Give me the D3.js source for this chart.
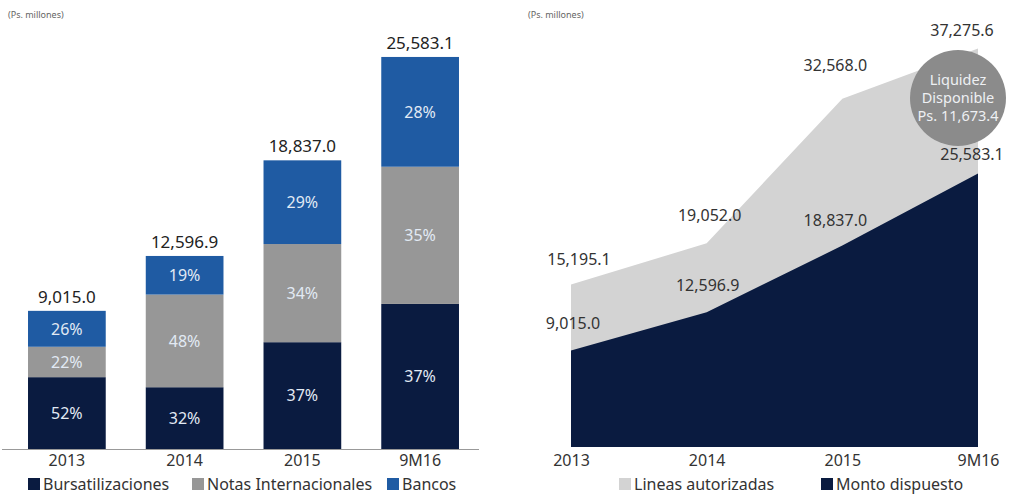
<!DOCTYPE html>
<html>
<head>
<meta charset="utf-8">
<script src="https://cdn.jsdelivr.net/npm/d3@7"></script>
<style>
  body { margin: 0; background: #fff; }
  svg text { font-family: "Noto Sans", "Open Sans", sans-serif; }
</style>
</head>
<body>
<div id="chart"></div>
<script>
// categories shared by both panels
const periods = ['2013', '2014', '2015', '9M16'];

// left panel: totals and split by source (percent)
const totals = [9015.0, 12596.9, 18837.0, 25583.1];
const pctBursatilizaciones = [52, 32, 37, 37];
const pctNotas = [22, 48, 34, 35];
const pctBancos = [26, 19, 29, 28];
const leftSeries = ['Bursatilizaciones', 'Notas Internacionales', 'Bancos'];

// right panel: authorised lines vs drawn amount
const lineasAutorizadas = [15195.1, 19052.0, 32568.0, 37275.6];
const montoDispuesto = [9015.0, 12596.9, 18837.0, 25583.1];
const liquidezLabel = ['Liquidez', 'Disponible', 'Ps. 11,673.4'];

const colors = {dark: '#0a1b40', gray: '#979797', blue: '#1f5ba3', light: '#d3d3d3', circle: '#8b8b8b'};
const fmt = d3.format(',.1f');

const svg = d3.select('#chart').append('svg')
    .attr('width', 1014)
    .attr('height', 497);

// ---------- left: stacked bars ----------
let baseL = 449;
let x = d3.scaleBand().domain(periods).range([8, 479]).paddingInner(0.34).paddingOuter(0.17);
let y = d3.scaleLinear().domain([0, 29300]).range([baseL, 0]);

let stackRows = periods.map(function(p, i) {
    return {period: p, total: totals[i],
        Bursatilizaciones: totals[i] * pctBursatilizaciones[i] / 100,
        'Notas Internacionales': totals[i] * pctNotas[i] / 100,
        Bancos: totals[i] * (100 - pctBursatilizaciones[i] - pctNotas[i]) / 100,
        pct: [pctBursatilizaciones[i], pctNotas[i], pctBancos[i]]};
});
let stacked = d3.stack().keys(leftSeries)(stackRows);
let segColor = d3.scaleOrdinal().domain(leftSeries).range([colors.dark, colors.gray, colors.blue]);

svg.append('text')
    .attr('x', 8).attr('y', 18)
    .style('font-size', '9px').style('fill', '#666')
    .text('(Ps. millones)');

let layers = svg.selectAll('.layer')
    .data(stacked)
  .enter().append('g')
    .attr('class', 'layer')
    .style('fill', function(d) { return segColor(d.key); });

layers.selectAll('rect')
    .data(function(d) { return d; })
  .enter().append('rect')
    .attr('x', function(d) { return x(d.data.period); })
    .attr('y', function(d) { return y(d[1]); })
    .attr('width', x.bandwidth())
    .attr('height', function(d) { return y(d[0]) - y(d[1]); });

layers.each(function(layer, li) {
    d3.select(this).selectAll('text')
        .data(layer)
      .enter().append('text')
        .attr('x', function(d) { return x(d.data.period) + x.bandwidth() / 2; })
        .attr('y', function(d) { return (y(d[0]) + y(d[1])) / 2; })
        .attr('dy', '0.36em')
        .style('text-anchor', 'middle')
        .style('font-size', '16px')
        .style('fill', '#e2eaf4')
        .text(function(d) { return d.data.pct[li] + '%'; });
});

svg.selectAll('.total')
    .data(stackRows)
  .enter().append('text')
    .attr('class', 'total')
    .attr('x', function(d) { return x(d.period) + x.bandwidth() / 2; })
    .attr('y', function(d) { return y(d.total) - 8; })
    .style('text-anchor', 'middle')
    .style('font-size', '17px')
    .style('fill', '#222')
    .text(function(d) { return fmt(d.total); });

let xAxisL = svg.append('g')
    .attr('transform', 'translate(0,' + baseL + ')')
    .call(d3.axisBottom(x).tickSize(0).tickPadding(6));
xAxisL.select('.domain').attr('d', 'M2,0.5H479').style('stroke', '#999').style('stroke-width', 1.2);
xAxisL.selectAll('.tick text').style('font-size', '16px').style('fill', '#333').style('font-family', '"Noto Sans", sans-serif');

let legL = [{label: 'Bursatilizaciones', x: 28}, {label: 'Notas Internacionales', x: 192}, {label: 'Bancos', x: 387}];
let legLg = svg.selectAll('.legL')
    .data(legL)
  .enter().append('g')
    .attr('class', 'legL')
    .attr('transform', function(d) { return 'translate(' + d.x + ',478)'; });
legLg.append('rect')
    .attr('width', 12).attr('height', 12)
    .style('fill', function(d) { return segColor(d.label); });
legLg.append('text')
    .attr('x', 15).attr('y', 6).attr('dy', '0.36em')
    .style('font-size', '16px').style('fill', '#333')
    .text(function(d) { return d.label; });

// ---------- right: area chart ----------
let baseR = 447;
let x2 = d3.scalePoint().domain(periods).range([571, 978]);
let y2 = d3.scaleLinear().domain([0, 41800]).range([baseR, 0]);

svg.append('text')
    .attr('x', 528).attr('y', 18)
    .style('font-size', '9px').style('fill', '#666')
    .text('(Ps. millones)');

let area = function(vals) {
    return d3.area()
        .x(function(d, i) { return x2(periods[i]); })
        .y0(baseR)
        .y1(function(d) { return y2(d); })(vals);
};

svg.append('path').attr('d', area(lineasAutorizadas)).style('fill', colors.light);
svg.append('path').attr('d', area(montoDispuesto)).style('fill', colors.dark);

// value labels
let lightOff = [[8, -20], [3, -22], [-7, -28], [-16, -12]];
let darkOff = [[2, -22], [1, -21], [-7, -20], [-6, -13]];
svg.selectAll('.lbl-light')
    .data(lineasAutorizadas)
  .enter().append('text')
    .attr('x', function(d, i) { return x2(periods[i]) + lightOff[i][0]; })
    .attr('y', function(d, i) { return y2(d) + lightOff[i][1]; })
    .style('text-anchor', 'middle').style('font-size', '16px').style('fill', '#333')
    .text(function(d) { return fmt(d); });
svg.selectAll('.lbl-dark')
    .data(montoDispuesto)
  .enter().append('text')
    .attr('x', function(d, i) { return x2(periods[i]) + darkOff[i][0]; })
    .attr('y', function(d, i) { return y2(d) + darkOff[i][1]; })
    .style('text-anchor', 'middle').style('font-size', '16px').style('fill', '#333')
    .text(function(d) { return fmt(d); });

// liquidity bubble
let bub = svg.append('g').attr('transform', 'translate(958,98)');
bub.append('circle').attr('r', 48).style('fill', colors.circle);
bub.selectAll('text')
    .data(liquidezLabel)
  .enter().append('text')
    .attr('y', function(d, i) { return (i - 1) * 18; })
    .attr('dy', '0.36em')
    .style('text-anchor', 'middle').style('font-size', '14.5px').style('fill', '#eef0f3')
    .text(function(d) { return d; });

let xAxisR = svg.append('g')
    .attr('transform', 'translate(0,' + baseR + ')')
    .call(d3.axisBottom(x2).tickSize(0).tickPadding(8));
xAxisR.select('.domain').remove();
xAxisR.selectAll('.tick text').style('font-size', '16px').style('fill', '#333').style('font-family', '"Noto Sans", sans-serif');

let legR = [{label: 'Lineas autorizadas', x: 619, c: colors.light}, {label: 'Monto dispuesto', x: 821, c: colors.dark}];
let legRg = svg.selectAll('.legR')
    .data(legR)
  .enter().append('g')
    .attr('class', 'legR')
    .attr('transform', function(d) { return 'translate(' + d.x + ',478)'; });
legRg.append('rect')
    .attr('width', 12).attr('height', 12)
    .style('fill', function(d) { return d.c; });
legRg.append('text')
    .attr('x', 15).attr('y', 6).attr('dy', '0.36em')
    .style('font-size', '16px').style('fill', '#333')
    .text(function(d) { return d.label; });
</script>
</body>
</html>
